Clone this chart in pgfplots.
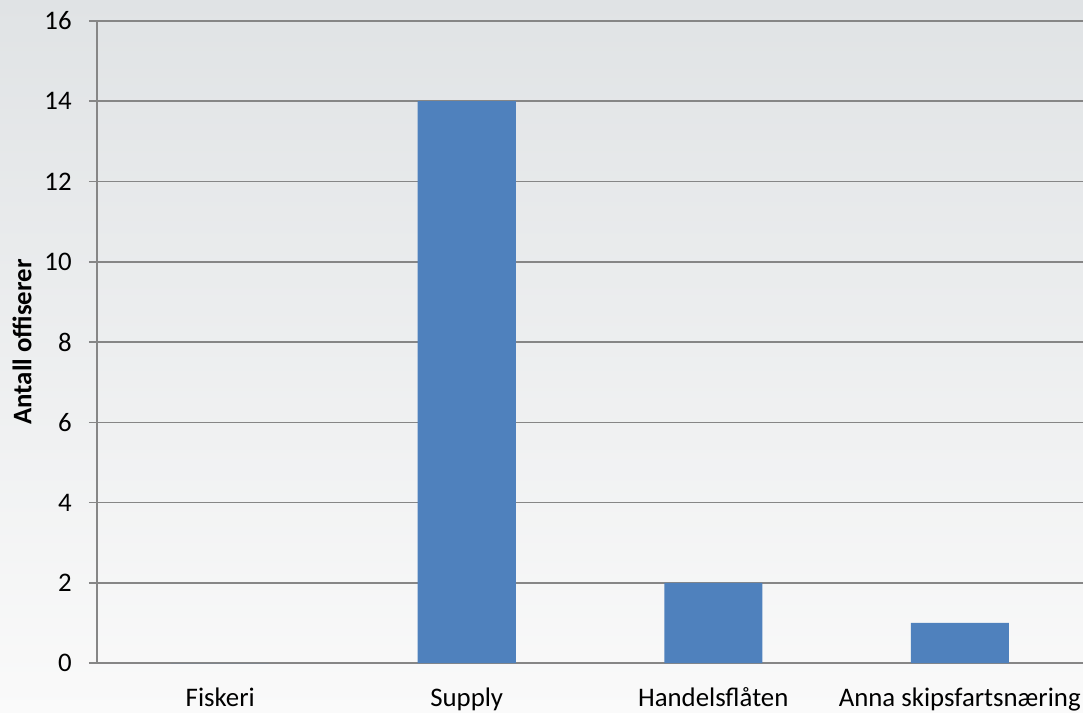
\documentclass[border=0pt]{standalone}
\usepackage{fontspec}
\setmainfont{Carlito}
\usepackage{pgfplots}
\pgfplotsset{compat=1.18}
\definecolor{barblue}{HTML}{4F81BD}
\definecolor{gridgray}{HTML}{868686}
\definecolor{bgtop}{HTML}{E0E3E5}
\definecolor{bgbot}{HTML}{FAFAFA}
\begin{document}
\fontsize{13.4}{16}\selectfont
\begin{tikzpicture}
    % whole picture in px/2 = pt
    \useasboundingbox (-48.5pt,-25pt) rectangle (493pt,331.5pt);
    \shade[top color=bgtop, bottom color=bgbot, middle color=bgtop!50!bgbot]
        (-48.5pt,-25pt) rectangle (493pt,331.5pt);
    \begin{axis}[
        scale only axis,
        width=493pt, height=321pt,
        ybar, bar width=49pt,
        xmin=-0.5, xmax=3.5,
        ymin=0, ymax=16,
        ytick={0,2,...,16},
        xtick=data,
        xticklabels={Fiskeri,Supply,Handelsflåten,Anna skipsfartsnæring},
        axis lines=left,
        axis line style={-, draw=gridgray, line width=0.75pt},
        ymajorgrids,
        grid style={gridgray, line width=0.75pt},
        tick align=outside,
        major tick length=4pt,
        x tick style={draw=none},
        y tick style={gridgray, line width=0.75pt},
        /pgf/number format/assume math mode=true,
        tick label style={font=\fontsize{13.4}{16}\selectfont},
        yticklabel style={inner sep=0pt, xshift=-8.5pt},
        xticklabel style={inner sep=0pt, yshift=-8pt},
        ylabel={Antall offiserer},
        ylabel style={at={(axis description cs:-0.0761,0.5)}, anchor=center,
            font=\fontsize{13.4}{16}\selectfont\bfseries},
    ]
    \addplot[fill=barblue, draw=none] coordinates {
        (0,0)
        (1,14)
        (2,2)
        (3,1)
    };
    \end{axis}
\end{tikzpicture}
\end{document}
